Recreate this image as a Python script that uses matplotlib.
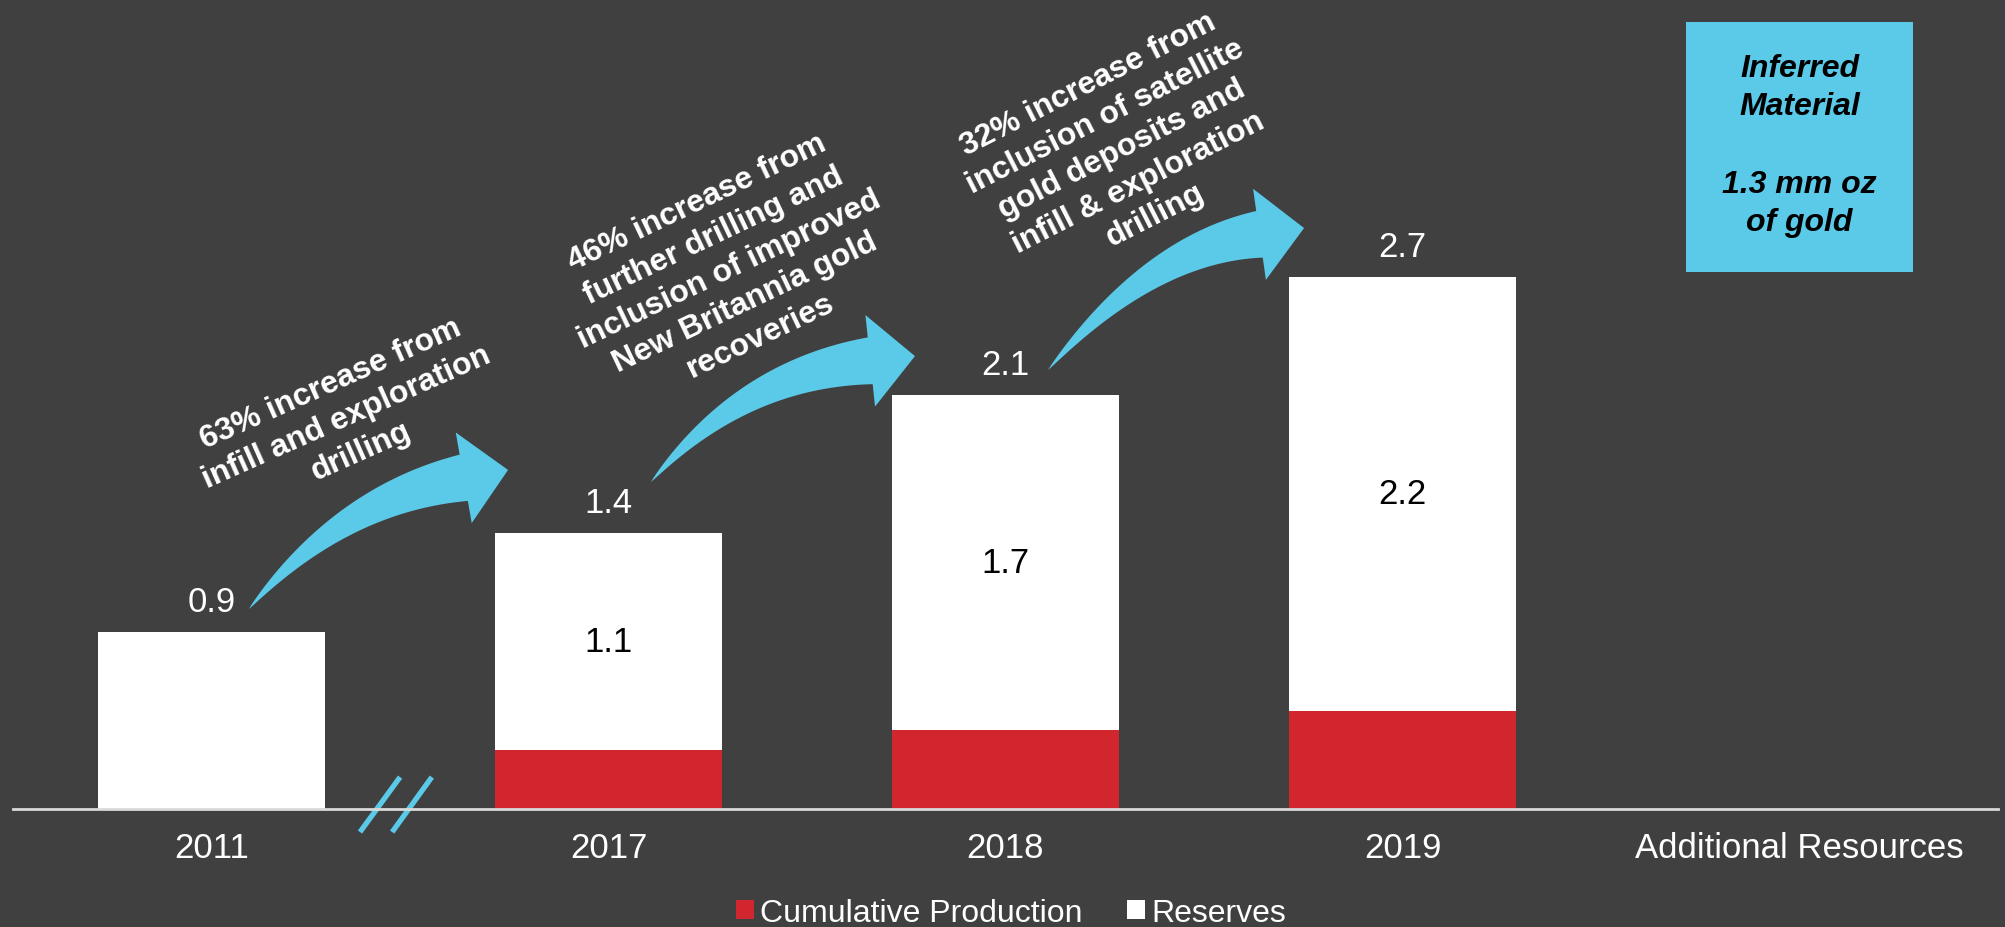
import numpy as np
import matplotlib
matplotlib.use("Agg")
import matplotlib.pyplot as plt
from matplotlib.patches import Polygon, Rectangle, Patch
from matplotlib.transforms import IdentityTransform

plt.rcParams['font.family'] = ['Liberation Sans', 'DejaVu Sans']

# ---- data (million oz of gold) ----
categories = ['2011', '2017', '2018', '2019', 'Additional Resources']
production = [0.0, 0.3, 0.4, 0.5]          # cumulative production
reserves = [0.9, 1.1, 1.7, 2.2]            # reserves
inferred_text = "Inferred\nMaterial\n\n1.3 mm oz\nof gold"

notes = [
    "63% increase from\ninfill and exploration\ndrilling",
    "46% increase from\nfurther drilling and\ninclusion of improved\nNew Britannia gold\nrecoveries",
    "32% increase from\ninclusion of satellite\ngold deposits and\ninfill & exploration\ndrilling",
]

BG = '#404040'
RED = '#D2262F'
CYAN = '#5BC9E8'
AXIS = '#D9D9D9'

W, H, DPI = 2005, 928, 100
fig = plt.figure(figsize=(W / DPI, H / DPI), dpi=DPI, facecolor=BG)
ax = fig.add_axes([13 / W, (H - 810) / H, 1985 / W, 810 / H])
ax.set_facecolor(BG)

x = np.arange(len(production))
bar_w = 0.573
totals = [p + r for p, r in zip(production, reserves)]

ax.bar(x, production, width=bar_w, color=RED, zorder=3, linewidth=0)
ax.bar(x, reserves, bottom=production, width=bar_w, color='white', zorder=3, linewidth=0)

ax.set_xlim(-0.5, 4.5)
ax.set_ylim(0, 810 / 197)

# baseline
ax.axhline(0, color=AXIS, lw=2.0, zorder=4, clip_on=False)

for s in ax.spines.values():
    s.set_visible(False)
ax.set_yticks([])
ax.set_xticks(range(len(categories)))
ax.set_xticklabels(categories, color='white', fontsize=25)
ax.tick_params(axis='x', length=0, pad=16)

# value labels
for xi, p, r, t in zip(x, production, reserves, totals):
    ax.annotate(f"{t:.1f}", (xi, t), xytext=(0, 22), textcoords='offset points',
                ha='center', va='center', color='white', fontsize=25, zorder=5)
    if p > 0:
        ax.text(xi, p + r / 2, f"{r:.1f}", ha='center', va='center',
                color='black', fontsize=25, zorder=5)

# axis break marks between 2011 and 2017
for x0, x1 in [(0.374, 0.475), (0.455, 0.555)]:
    ax.plot([x0, x1], [-0.117, 0.162], color=CYAN, lw=3.8, solid_capstyle='butt',
            zorder=2, clip_on=False)

# inferred material box
ax.add_patch(Rectangle((4 - bar_w / 2, 2.726), bar_w, 1.269, facecolor=CYAN,
                       edgecolor='none', zorder=3))
ax.text(4, 2.726 + 1.269 / 2 + 0.01, inferred_text, ha='center', va='center',
        fontsize=23, fontweight='bold', fontstyle='italic', color='black',
        linespacing=1.38, zorder=5)


def curved_arrow(tail, tip, head_deg, tail_deg=50, head_len=45, head_half=46,
                 body_w=47, n=80):
    """Tapered curved block arrow; tail/tip given in data coordinates."""
    P0 = np.array(ax.transData.transform(tail))
    T = np.array(ax.transData.transform(tip))
    ah = np.radians(head_deg)
    at = np.radians(tail_deg)
    dh = np.array([np.cos(ah), np.sin(ah)])
    dt = np.array([np.cos(at), np.sin(at)])
    B = T - head_len * dh
    # control point: intersection of tail tangent and head tangent
    A = np.column_stack([dt, dh])
    s = np.linalg.solve(A, B - P0)
    C = P0 + s[0] * dt
    t = np.linspace(0, 1, n)[:, None]
    pts = (1 - t) ** 2 * P0 + 2 * (1 - t) * t * C + t ** 2 * B
    der = 2 * (1 - t) * (C - P0) + 2 * t * (B - C)
    der /= np.linalg.norm(der, axis=1)[:, None]
    nrm = np.column_stack([-der[:, 1], der[:, 0]])
    w = body_w * t[:, 0] ** 0.85 / 2
    upper = pts + nrm * w[:, None]
    lower = pts - nrm * w[:, None]
    nh = np.array([-dh[1], dh[0]])
    head = [B + nh * head_half, T, B - nh * head_half]
    poly = np.vstack([upper, head, lower[::-1]])
    ax.add_patch(Polygon(poly, closed=True, facecolor=CYAN, edgecolor='none',
                         transform=IdentityTransform(), zorder=4))


fig.canvas.draw()
arrows = [((0.094, 1.015), (0.747, 1.721), 10),
          ((1.107, 1.660), (1.772, 2.299), 6),
          ((2.107, 2.228), (2.752, 2.949), 8)]
for tail, tip, hd in arrows:
    curved_arrow(tail, tip, hd)

note_pos = [((0.339, 1.990), 24), ((1.304, 2.741), 25.5), ((2.293, 3.350), 27)]
for txt, ((nx, ny), rot) in zip(notes, note_pos):
    ax.text(nx, ny, txt, ha='center', va='center', rotation=rot,
            rotation_mode='anchor', multialignment='center', color='white',
            fontsize=23, fontweight='bold', linespacing=1.3, zorder=5)

handles = [Patch(facecolor=RED, edgecolor='none', label='Cumulative Production'),
           Patch(facecolor='white', edgecolor='none', label='Reserves')]
leg = fig.legend(handles=handles, loc='center', bbox_to_anchor=(0.5042, 0.0156),
                 ncol=2, frameon=False, fontsize=23, handlelength=0.55,
                 handleheight=0.55, handletextpad=0.2, columnspacing=1.4,
                 labelcolor='white')

fig.savefig('out.png', dpi=DPI, facecolor=BG)
